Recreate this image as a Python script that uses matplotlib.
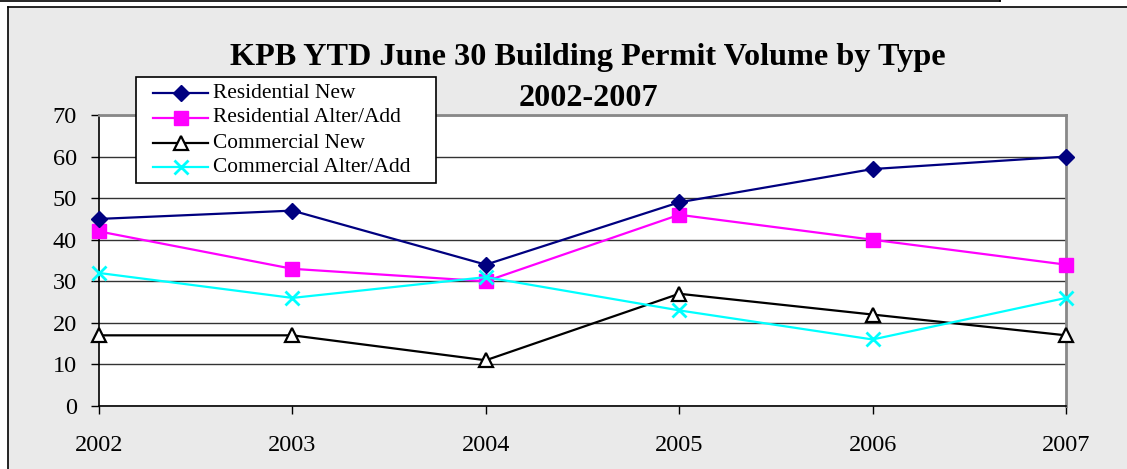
import matplotlib
matplotlib.use("Agg")
import matplotlib.pyplot as plt
from matplotlib.lines import Line2D
from matplotlib.patches import Rectangle

years = [2002, 2003, 2004, 2005, 2006, 2007]
residential_new = [45, 47, 34, 49, 57, 60]
residential_alter = [42, 33, 30, 46, 40, 34]
commercial_new = [17, 17, 11, 27, 22, 17]
commercial_alter = [32, 26, 31, 23, 16, 26]
series_names = ["Residential New", "Residential Alter/Add", "Commercial New", "Commercial Alter/Add"]
y_ticks = [0, 10, 20, 30, 40, 50, 60, 70]

plt.rcParams['font.family'] = ['Liberation Serif', 'DejaVu Serif']

W, H = 1127, 469
fig = plt.figure(figsize=(W / 100, H / 100), dpi=100)
fig.patch.set_facecolor('white')


def fx(px):
    return px / W


def fy(py):
    return 1 - py / H


# gray chart frame
fig.patches.append(Rectangle((fx(8), 0), 1 - fx(8), fy(7), transform=fig.transFigure,
                             facecolor='#EAEAEA', edgecolor='none', zorder=-10))
fig.lines.append(Line2D([fx(8), fx(8)], [0, fy(7)], transform=fig.transFigure, color='black', lw=1.2, zorder=-5))
fig.lines.append(Line2D([fx(8), 1], [fy(7), fy(7)], transform=fig.transFigure, color='black', lw=1.2, zorder=-5))
# top box edge
fig.lines.append(Line2D([0, fx(1000)], [fy(1), fy(1)], transform=fig.transFigure, color='black', lw=1.2))
fig.lines.append(Line2D([fx(1000), fx(1000)], [fy(1.5), 1], transform=fig.transFigure, color='black', lw=1.2))

left, right, bottom, top = fx(99), fx(1066), fy(406), fy(115)
ax = fig.add_axes([left, bottom, right - left, top - bottom], zorder=1)
ax.set_facecolor('white')

styles = [
    dict(color='#000080', marker='D', ms=8, mfc='#000080', mec='#000080', mew=1),
    dict(color='#FF00FF', marker='s', ms=10, mfc='#FF00FF', mec='#FF00FF', mew=1),
    dict(color='black', marker='^', ms=10, mfc='white', mec='black', mew=1.6),
    dict(color='#00FFFF', marker='x', ms=10, mec='#00FFFF', mew=2),
]
data = [residential_new, residential_alter, commercial_new, commercial_alter]
zorders = [4, 3, 3, 5]
for vals, st, name, z in zip(data, styles, series_names, zorders):
    ax.plot(years, vals, lw=1.6, label=name, zorder=z, clip_on=False, **st)

ax.set_xlim(2002, 2007)
ax.set_ylim(0, 70)
ax.set_yticks(y_ticks)
ax.set_xticks(years)
ax.set_xticklabels([str(y) for y in years])
ax.yaxis.grid(True, color='#333333', lw=1.0)
ax.set_axisbelow(True)
ax.tick_params(axis='both', direction='out', length=6, width=1, labelsize=17.5, color='black')
ax.tick_params(axis='x', pad=15)
ax.tick_params(axis='y', pad=10)
for s in ['left', 'bottom']:
    ax.spines[s].set_color('black')
    ax.spines[s].set_linewidth(1.2)
for s in ['top', 'right']:
    ax.spines[s].set_color('#888888')
    ax.spines[s].set_linewidth(2)

fig.text(fx(588), fy(58), "KPB YTD June 30 Building Permit Volume by Type", ha='center', va='center',
         fontsize=23.2, fontweight='bold', zorder=5)
fig.text(fx(588), fy(98), "2002-2007", ha='center', va='center', fontsize=23.2, fontweight='bold', zorder=5)

# legend, drawn by hand in figure pixels
leg_ax = fig.add_axes([0, 0, 1, 1], zorder=10)
leg_ax.set_xlim(0, W)
leg_ax.set_ylim(H, 0)
leg_ax.axis('off')
leg_ax.add_patch(Rectangle((136, 77), 300, 106, facecolor='white', edgecolor='black', lw=1.2))
row_y = [93, 118, 143, 167]
for yy, st, name in zip(row_y, styles, series_names):
    leg_ax.plot([153, 208], [yy, yy], color=st['color'], lw=1.6)
    mk = {k: v for k, v in st.items() if k != 'color'}
    leg_ax.plot([180.5], [yy], color=st['color'], linestyle='none', **mk)
    leg_ax.text(213, yy, name, ha='left', va='center', fontsize=15.4)

fig.savefig('out.png', dpi=100, facecolor=fig.get_facecolor())
